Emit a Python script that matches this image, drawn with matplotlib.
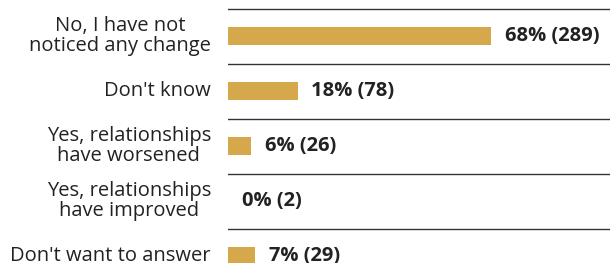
import matplotlib
matplotlib.use("Agg")
import matplotlib.pyplot as plt

categories = [
    "No, I have not\nnoticed any change",
    "Don't know",
    "Yes, relationships\nhave worsened",
    "Yes, relationships\nhave improved",
    "Don't want to answer",
]
percents = [68, 18, 6, 0, 7]
counts = [289, 78, 26, 2, 29]

bar_color = "#D5A94B"
text_color = "#222222"

plt.rcParams['font.family'] = ['Open Sans', 'DejaVu Sans']

fig = plt.figure(figsize=(6.10, 2.63), dpi=100)
ax = fig.add_axes([228 / 610, 0, 1 - 228 / 610, 1])

rows = list(range(len(categories)))
ax.barh(rows, percents, height=0.31, color=bar_color)

# separator lines between rows
for i in rows:
    ax.axhline(i - 0.5, color="#333333", linewidth=1.0)

for i, (p, c) in enumerate(zip(percents, counts)):
    ax.text(p + 3.5, i, f"{p}% ({c})", va="center", ha="left",
            fontsize=14.5, fontweight="bold", color=text_color)
    ax.text(-4.4, i, categories[i], va="center", ha="right",
            multialignment="center", fontsize=14.5, color=text_color,
            linespacing=0.95, clip_on=False)

ax.set_xlim(0, 98.7)
ax.set_ylim(4.127, -0.655)
ax.axis("off")

fig.savefig("out.png", dpi=100)
